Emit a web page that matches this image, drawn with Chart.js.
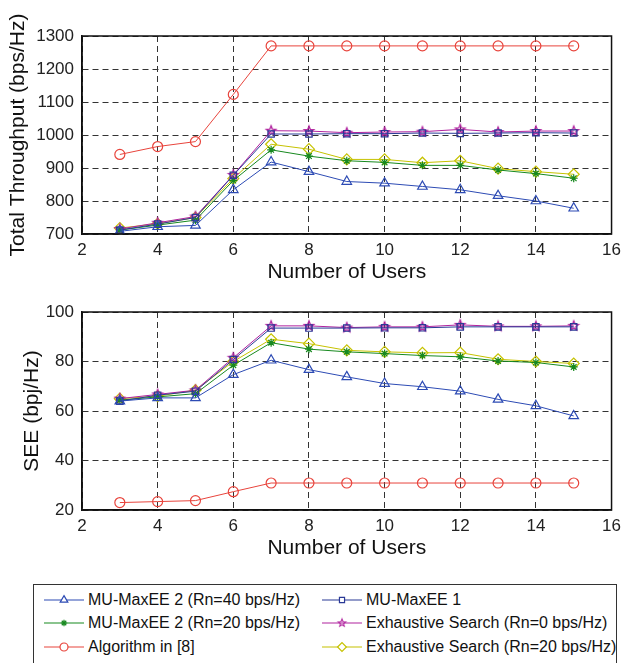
<!DOCTYPE html>
<html>
<head>
<meta charset="utf-8">
<title>Throughput and SEE vs number of users</title>
<script src="https://cdn.jsdelivr.net/npm/chart.js@4.4.1/dist/chart.umd.min.js"></script>
<style>
  body { margin: 0; background: #fff; width: 627px; height: 663px; overflow: hidden; position: relative;
         font-family: 'Liberation Sans', Arial, Helvetica, sans-serif; }
  .plot { position: absolute; left: 0; width: 627px; height: 290px; }
  #legend { position: absolute; left: 33px; top: 584px; width: 584px; height: 90px;
            border: 1px solid #333; box-sizing: border-box; background: #fff; }
  .item { position: absolute; display: flex; align-items: center; font-size: 16px; color: #111; white-space: nowrap; }
  .item canvas { margin-right: 4px; }
</style>
</head>
<body>
<div class="plot" style="top:0"><canvas id="throughputChart"></canvas></div>
<div class="plot" style="top:276px"><canvas id="seeChart"></canvas></div>
<div id="legend"></div>

<script>
// x axis: number of users
const users = [3, 4, 5, 6, 7, 8, 9, 10, 11, 12, 13, 14, 15];

// Total throughput (bps/Hz)
const tpMaxEE2Rn40 = [708, 722, 726, 834, 918, 889, 859, 854, 844, 834, 816, 800, 778];
const tpMaxEE1     = [712, 730, 750, 878, 1003, 1003, 1004, 1004, 1006, 1005, 1006, 1007, 1006];
const tpMaxEE2Rn20 = [712, 727, 742, 862, 955, 936, 922, 917, 908, 908, 894, 883, 869];
const tpExhRn0     = [715, 734, 753, 879, 1013, 1012, 1007, 1009, 1010, 1017, 1009, 1012, 1012];
const tpAlg8       = [941, 965, 980, 1123, 1270, 1270, 1270, 1270, 1270, 1270, 1270, 1270, 1270];
const tpExhRn20    = [718, 731, 750, 868, 972, 957, 926, 926, 916, 922, 898, 889, 881];

// SEE (bpj/Hz)
const seeMaxEE2Rn40 = [64, 65.3, 65.3, 74.7, 80.5, 76.7, 73.8, 71.1, 69.8, 68, 64.7, 62.1, 58];
const seeMaxEE1     = [64, 66.4, 68, 80.8, 93.5, 93.5, 93.5, 93.6, 93.6, 94, 94, 94, 94];
const seeMaxEE2Rn20 = [64.4, 65.7, 67, 78.5, 87.6, 85, 83.9, 83.2, 82.4, 81.9, 80.2, 79.6, 77.8];
const seeExhRn0     = [65, 66.7, 68.4, 81.5, 94.4, 94.4, 93.7, 94, 94, 94.8, 94.2, 94.2, 94.4];
const seeAlg8       = [23, 23.4, 23.8, 27.4, 30.9, 30.9, 30.9, 30.9, 30.9, 30.9, 30.9, 30.9, 30.9];
const seeExhRn20    = [65, 66, 68.4, 80, 89, 87.2, 84.5, 83.9, 83.5, 83.6, 80.9, 80, 79.2];

// series names, in legend order (two columns, filled row by row)
const seriesNames = [
  'MU-MaxEE 2 (Rn=40 bps/Hz)',
  'MU-MaxEE 1',
  'MU-MaxEE 2 (Rn=20 bps/Hz)',
  'Exhaustive Search (Rn=0 bps/Hz)',
  'Algorithm in [8]',
  'Exhaustive Search (Rn=20 bps/Hz)'
];
const throughputSeries = [tpMaxEE2Rn40, tpMaxEE1, tpMaxEE2Rn20, tpExhRn0, tpAlg8, tpExhRn20];
const seeSeries = [seeMaxEE2Rn40, seeMaxEE1, seeMaxEE2Rn20, seeExhRn0, seeAlg8, seeExhRn20];

const xTicks = [2, 4, 6, 8, 10, 12, 14, 16];
const throughputTicks = [700, 800, 900, 1000, 1100, 1200, 1300];
const seeTicks = [20, 40, 60, 80, 100];

// ---- styles ----
const FONT = "'Liberation Sans', Arial, Helvetica, sans-serif";
const seriesColors = ['#2d4bb4', '#2a3a96', '#17891f', '#b0229e', '#e8443c', '#c6c200'];
const seriesMarkers = ['triangle', 'rect', 'star', 'pentagram', 'circle', 'rectRot'];
const markerRadius = [5.5, 4.5, 4, 5, 5, 5.5];

// MATLAB style five-pointed star, drawn once into a small canvas
function makePentagram(color, r) {
  const size = Math.ceil(r * 2 + 4);
  const c = document.createElement('canvas');
  c.width = size; c.height = size;
  const g = c.getContext('2d');
  const cx = size / 2, cy = size / 2;
  g.beginPath();
  for (let i = 0; i < 10; i++) {
    const rad = i % 2 === 0 ? r : r * 0.42;
    const a = -Math.PI / 2 + i * Math.PI / 5;
    const px = cx + rad * Math.cos(a), py = cy + rad * Math.sin(a);
    if (i === 0) g.moveTo(px, py); else g.lineTo(px, py);
  }
  g.closePath();
  g.strokeStyle = color;
  g.lineWidth = 1.3;
  g.stroke();
  return c;
}

function pointStyleFor(i) {
  if (seriesMarkers[i] === 'pentagram') return makePentagram(seriesColors[i], markerRadius[i]);
  return seriesMarkers[i];
}

function buildDatasets(seriesValues) {
  return seriesValues.map((vals, i) => ({
    label: seriesNames[i],
    data: users.map((u, k) => ({ x: u, y: vals[k] })),
    borderColor: seriesColors[i],
    backgroundColor: 'transparent',
    borderWidth: 1,
    pointStyle: pointStyleFor(i),
    pointRadius: markerRadius[i],
    pointBorderWidth: 1.2,
    pointBorderColor: seriesColors[i],
    pointBackgroundColor: 'transparent',
    tension: 0
  }));
}

// box around the plot area
const boxPlugin = {
  id: 'box',
  afterDatasetsDraw(chart) {
    const { ctx, chartArea: a } = chart;
    ctx.save();
    ctx.strokeStyle = '#111';
    ctx.lineWidth = 1.5;
    ctx.strokeRect(a.left, a.top, a.right - a.left, a.bottom - a.top);
    ctx.restore();
  }
};

function makeChart(canvasId, seriesValues, yTitle, yTicks, padLeft) {
  const ctx = document.getElementById(canvasId).getContext('2d');
  return new Chart(ctx, {
    type: 'line',
    data: { datasets: buildDatasets(seriesValues) },
    plugins: [boxPlugin],
    options: {
      responsive: false,
      animation: false,
      events: [],
      layout: { padding: { left: padLeft, right: 10, top: 36, bottom: 0 } },
      plugins: { legend: { display: false }, tooltip: { enabled: false } },
      scales: {
        x: {
          type: 'linear',
          min: xTicks[0],
          max: xTicks[xTicks.length - 1],
          afterBuildTicks(scale) { scale.ticks = xTicks.map(v => ({ value: v })); },
          afterFit(scale) { scale.height = 56; },
          grid: { color: '#333', lineWidth: 1, drawTicks: false },
          border: { display: true, color: '#111', width: 1.5, dash: [6, 4] },
          ticks: { color: '#222', font: { family: FONT, size: 17 }, padding: 6, maxRotation: 0,
                   callback: v => String(v) },
          title: { display: true, text: 'Number of Users', color: '#111',
                   font: { family: FONT, size: 21 }, padding: { top: 0, bottom: 5 } }
        },
        y: {
          type: 'linear',
          min: yTicks[0],
          max: yTicks[yTicks.length - 1],
          afterBuildTicks(scale) { scale.ticks = yTicks.map(v => ({ value: v })); },
          afterFit(scale) { scale.width = 82 - padLeft; },
          grid: { color: '#333', lineWidth: 1, drawTicks: false },
          border: { display: true, color: '#111', width: 1.5, dash: [6, 4] },
          ticks: { color: '#222', font: { family: FONT, size: 17 }, padding: 8,
                   callback: v => String(v) },
          title: { display: true, text: yTitle, color: '#111',
                   font: { family: FONT, size: 21 }, padding: { top: 4, bottom: 4 } }
        }
      }
    }
  });
}

document.getElementById('throughputChart').width = 627;
document.getElementById('throughputChart').height = 290;
document.getElementById('seeChart').width = 627;
document.getElementById('seeChart').height = 290;

const throughputChart = makeChart('throughputChart', throughputSeries, 'Total Throughput (bps/Hz)', throughputTicks, 2);
const seeChart = makeChart('seeChart', seeSeries, 'SEE (bpj/Hz)', seeTicks, 16);

// legend: line sample with marker, then the series name
function buildLegend() {
  const legend = document.getElementById('legend');
  const colLeft = [10, 288];
  const rowTop = [4, 27, 51];
  seriesNames.forEach((name, i) => {
    const item = document.createElement('div');
    item.className = 'item';
    item.style.left = colLeft[i % 2] + 'px';
    item.style.top = rowTop[Math.floor(i / 2)] + 'px';
    const icon = document.createElement('canvas');
    icon.width = 40; icon.height = 22;
    const g = icon.getContext('2d');
    g.strokeStyle = seriesColors[i];
    g.lineWidth = 1.2;
    g.beginPath(); g.moveTo(0, 11); g.lineTo(40, 11); g.stroke();
    const style = pointStyleFor(i);
    if (style instanceof HTMLCanvasElement) {
      g.drawImage(style, 20 - style.width * 0.4, 11 - style.height * 0.4, style.width * 0.8, style.height * 0.8);
    } else {
      g.fillStyle = '#fff';
      Chart.helpers.drawPoint(g, { pointStyle: style, radius: markerRadius[i] * 0.8, borderWidth: 1.2, rotation: 0 }, 20, 11);
    }
    const label = document.createElement('span');
    label.textContent = name;
    item.appendChild(icon);
    item.appendChild(label);
    legend.appendChild(item);
  });
}
buildLegend();
</script>
</body>
</html>
